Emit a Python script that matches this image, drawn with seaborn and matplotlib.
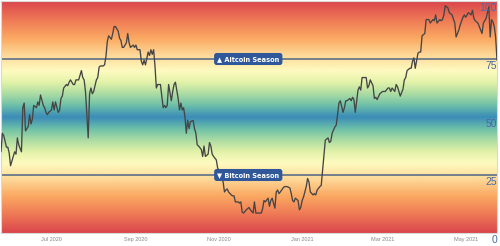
import numpy as np
import pandas as pd
import matplotlib
matplotlib.use("Agg")
import matplotlib.pyplot as plt
import matplotlib.dates as mdates
import matplotlib.transforms as mtransforms
from matplotlib.colors import LinearSegmentedColormap
import seaborn as sns

# ---- data ----
start_date = "2020-05-25"
day_offsets = [
    0, 1, 2, 4, 5, 6, 7, 9, 10, 11, 12, 13, 15, 16, 17, 18, 20, 21, 22, 23, 24, 26, 27, 28, 29,
    31, 32, 33, 34, 35, 37, 38, 39, 40, 42, 43, 44, 45, 46, 48, 49, 50, 51, 53, 54, 55, 56, 57,
    59, 60, 61, 62, 64, 65, 66, 67, 68, 70, 71, 72, 73, 75, 76, 77, 78, 79, 81, 82, 83, 84, 86,
    87, 88, 89, 90, 92, 93, 94, 95, 97, 98, 99, 100, 102, 103, 104, 105, 106, 108, 109, 110, 111,
    112, 113, 114, 115, 116, 117, 119, 120, 121, 122, 123, 125, 126, 127, 128, 130, 131, 132, 133,
    134, 135, 136, 137, 138, 139, 141, 142, 143, 144, 145, 147, 148, 149, 150, 152, 153, 154, 155,
    156, 158, 159, 160, 161, 163, 164, 165, 166, 167, 169, 170, 171, 172, 174, 175, 176, 177, 178,
    180, 181, 182, 183, 185, 186, 187, 188, 189, 191, 192, 193, 194, 196, 197, 198, 199, 201, 202,
    203, 204, 205, 207, 208, 209, 210, 212, 213, 214, 215, 216, 218, 219, 220, 221, 222, 224, 225,
    226, 227, 229, 230, 231, 232, 234, 235, 236, 237, 238, 240, 241, 242, 243, 245, 246, 247, 248,
    249, 251, 252, 253, 254, 256, 257, 258, 259, 260, 262, 263, 264, 265, 267, 268, 269, 270, 271,
    273, 274, 275, 276, 278, 279, 280, 281, 282, 284, 285, 286, 287, 289, 290, 291, 292, 293, 295,
    296, 297, 298, 300, 301, 302, 303, 304, 306, 307, 308, 309, 311, 312, 313, 314, 315, 317, 318,
    319, 320, 322, 323, 324, 325, 326, 328, 329, 330, 331, 333, 334, 335, 336, 337, 339, 340, 341,
    342, 343, 345, 346, 347, 348, 350, 351, 352, 353, 354, 356, 357, 358, 359, 360, 361, 362, 363, 364,
]
index_values = [
    35, 43, 42, 37, 37, 34.5, 29, 33, 35, 34, 41, 38, 35, 54, 56, 44, 46, 51, 47, 49, 55, 54, 56.5, 55, 59.5,
    55, 54, 52, 51, 52, 53, 56.5, 53, 56.5, 52, 53, 58, 59, 62.5, 64, 63.5, 65, 66, 64, 64, 66, 66, 66,
    70, 67, 66, 61, 41, 60, 62.5, 60, 61, 66, 67, 71.5, 72, 72, 72.5, 76, 82.5, 85, 83.5, 86, 89, 89, 87,
    84, 83, 80, 80, 82, 86, 82, 80, 81, 80, 81, 79, 79, 74, 72.5, 74.5, 72.5, 78, 76.5, 79, 77,
    79, 72, 62.5, 64, 64, 64, 54, 55, 54, 55, 64, 57, 61, 64, 65, 58, 53, 56, 53,
    54, 50, 43, 48.7, 45, 48, 48.5, 45, 43, 38, 37.5, 36, 33, 37.5, 33, 34, 39, 37.5, 34,
    33, 31.5, 28, 27, 26, 22, 17.7, 18.5, 19, 17.7, 16.4, 16, 16, 13.4, 13.4, 12.9, 13.4, 9, 8.6,
    10, 10.5, 11, 10, 8.6, 13.4, 8.6, 8.6, 8.6, 8.6, 10.5, 14, 13.4, 15, 11.5, 14, 15, 10.7, 17.7,
    18.5, 17, 17.7, 19.4, 20, 20, 20, 19.4, 17, 14, 13.4, 15, 14, 10, 11, 14, 15.5, 20, 23.5,
    22, 17.7, 16.4, 17, 16.4, 18.5, 20, 20.5, 27, 33, 40, 41, 39, 39.5, 43, 45.7, 46.5, 51,
    56, 57, 52, 54, 57, 57, 58, 57, 58.5, 57.5, 52, 61.6, 63, 61.6, 67, 67, 67, 62.5, 63.5,
    66, 63.5, 58, 58.5, 57.5, 60, 60.5, 61, 61, 61, 62.5, 62.5, 61, 62.5, 61, 64, 63, 61, 59, 62,
    66, 67, 70, 71, 71, 74, 75.5, 71, 77.5, 78, 78, 85, 86, 92, 92, 92, 90.5, 92, 91.5,
    94, 90.5, 92, 91.5, 92, 94, 98, 97, 95, 94.5, 94, 90.5, 84.5, 86, 87.5, 89.7, 93, 94, 93,
    94, 95, 94, 96, 92.6, 91.5, 90.5, 89, 87.5, 86, 90.5, 92.5, 95, 97.5, 84.5, 92, 91, 89, 84.5, 74.5,
]
ytick_values = [0, 25, 50, 75, 100]
season_levels = [75, 25]
season_labels = ["\u25B2 Altcoin Season", "\u25BC Bitcoin Season"]

dates = pd.Timestamp(start_date) + pd.to_timedelta(day_offsets, unit="D")
df = pd.DataFrame({"date": dates, "value": index_values})

# ---- style ----
sns.set_theme(style="white")
plt.rcParams["font.family"] = ["Liberation Sans", "DejaVu Sans"]

fig = plt.figure(figsize=(5.0, 2.46), dpi=100)
ax = fig.add_axes([0.002, 1 - 233 / 246, 0.992, 232 / 246])

# background gradient (symmetric around 50)
stops = [
    (0.00, "#da474c"), (0.08, "#ef7a56"), (0.16, "#fbaa63"), (0.23, "#fed898"),
    (0.30, "#fefbc0"), (0.35, "#e2f2a8"), (0.40, "#abdca3"), (0.45, "#6cbfa8"),
    (0.50, "#3a8cb8"),
]
full = stops + [(1 - p, c) for p, c in reversed(stops[:-1])]
cmap = LinearSegmentedColormap.from_list("season", full)
grad = np.linspace(1, 0, 400).reshape(-1, 1)
ax.imshow(grad, cmap=cmap, aspect="auto", extent=[0, 1, 0, 1],
          transform=ax.transAxes, zorder=0, interpolation="bilinear")

# season lines
for lvl in season_levels:
    ax.axhline(lvl, color="#5d6f86", lw=1.2, zorder=2)

sns.lineplot(data=df, x="date", y="value", ax=ax, color="#454545", lw=0.95, zorder=3)

ax.set_xlim(df["date"].min(), df["date"].max())
ax.set_ylim(0, 100)

# label boxes
for lvl, lab in zip(season_levels, season_labels):
    ax.text(0.4985, lvl, lab, transform=mtransforms.blended_transform_factory(ax.transAxes, ax.transData),
            ha="center", va="center", color="white", fontsize=4.8, fontweight="bold",
            family=["DejaVu Sans"],
            bbox=dict(boxstyle="round,pad=0.35,rounding_size=0.3", fc="#2f579a", ec="#2f579a"),
            zorder=5)

# y labels inside, right side
ax.set_yticks([])
off = mtransforms.ScaledTranslation(0, -2 / 100, fig.dpi_scale_trans)
trans = mtransforms.blended_transform_factory(ax.transAxes, ax.transData) + off
for v in ytick_values:
    ax.text(1.0, v, str(v), transform=trans, ha="right", va="top", fontsize=7.5,
            color="#4a6aa5", zorder=6, clip_on=False)

# x axis
ax.xaxis.set_major_locator(mdates.MonthLocator(bymonth=[1, 3, 5, 7, 9, 11]))
ax.xaxis.set_major_formatter(mdates.DateFormatter("%b %Y"))
ax.tick_params(axis="x", labelsize=4, colors="#888888", length=0, pad=3)
ax.set_xlabel("")
ax.set_ylabel("")
for s in ax.spines.values():
    s.set_color("#d8d8d8")
    s.set_linewidth(0.8)

fig.savefig("out.png", dpi=100)
